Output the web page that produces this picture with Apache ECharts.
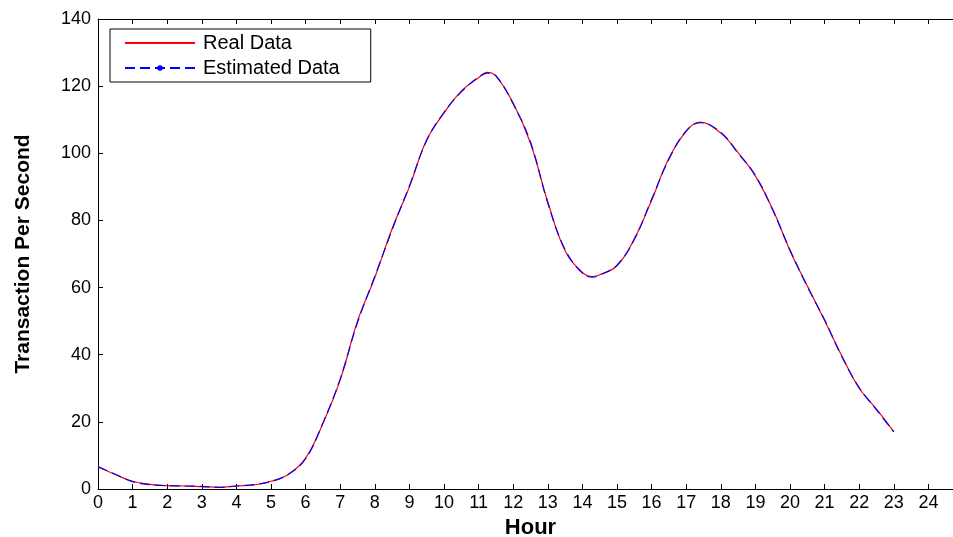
<!DOCTYPE html>
<html>
<head>
<meta charset="utf-8">
<style>
  html, body { margin: 0; padding: 0; background: #fff; }
  #chart { width: 953px; height: 537px; }
</style>
<script src="https://cdn.jsdelivr.net/npm/echarts@6/dist/echarts.min.js"></script>
</head>
<body>
<div id="chart"></div>
<script>
const hours = [0, 0.5, 1, 1.5, 2, 2.5, 3, 3.5, 4, 4.5, 5, 5.5, 6, 6.5, 7, 7.5, 8, 8.5, 9, 9.5,
  10, 10.5, 11, 11.25, 11.5, 12, 12.5, 13, 13.5, 14, 14.3, 14.5, 15, 15.5, 16, 16.5, 17, 17.4,
  18, 18.5, 19, 19.5, 20, 20.5, 21, 21.5, 22, 22.5, 23];
const realData = [6.7, 4.3, 2.3, 1.4, 1.0, 0.9, 0.7, 0.5, 0.9, 1.2, 2.3, 4.3, 9.2, 19.5, 32.5, 50, 63, 77.5, 90, 104,
  112, 118.5, 122.5, 124.1, 123, 115, 103, 85.5, 71, 64.5, 63.3, 63.8, 66.5, 74.5, 86, 98.5, 106.5, 109.3,
  106, 100.2, 93.2, 83.3, 71, 60.5, 50.2, 39.6, 30, 23.8, 17.1];
const estimatedData = [6.6, 4.4, 2.2, 1.3, 1.0, 0.9, 0.8, 0.5, 0.9, 1.3, 2.2, 4.4, 9.0, 19.7, 32.8, 49.6, 63.3, 77.2, 90.3, 103.8,
  112.2, 118.3, 122.7, 123.9, 123.1, 114.7, 103.3, 85.2, 71.3, 64.3, 63.1, 63.7, 66.7, 74.3, 86.3, 98.2, 106.7, 109.1,
  106.2, 100, 93.4, 83.1, 71.2, 60.3, 50.4, 39.4, 30.2, 23.6, 17.0];
const yTicks = [0, 20, 40, 60, 80, 100, 120, 140];

const font = 'Liberation Sans, Arial, sans-serif';
const toPairs = (vals) => vals.map((v, i) => [hours[i], v]);

const chart = echarts.init(document.getElementById('chart'));
chart.setOption({
  animation: false,
  backgroundColor: '#fff',
  grid: { left: 98, right: -10, top: 19, bottom: 48, outerBoundsMode: 'none', containLabel: false },
  legend: {
    orient: 'vertical',
    left: 110,
    top: 29,
    padding: [4, 31, 4, 14],
    itemWidth: 70,
    itemHeight: 7,
    itemGap: 5,
    borderColor: '#000',
    borderWidth: 1,
    borderRadius: 0,
    backgroundColor: '#fff',
    textStyle: { fontFamily: font, fontSize: 20, color: '#000', padding: [0, 0, 0, 3] },
    data: [
      { name: 'Real Data', itemStyle: { opacity: 0 } },
      { name: 'Estimated Data' },
    ],
  },
  xAxis: [
    {
      type: 'value',
      min: 0,
      max: 25,
      interval: 1,
      name: 'Hour',
      nameLocation: 'middle',
      nameGap: 28,
      nameTextStyle: { fontFamily: font, fontSize: 22, fontWeight: 'bold', color: '#000' },
      splitLine: { show: false },
      axisLine: { lineStyle: { color: '#000', width: 1 } },
      axisTick: { inside: true, length: 5, lineStyle: { color: '#000' } },
      axisLabel: {
        fontFamily: font, fontSize: 18, color: '#000', margin: 5,
        formatter: (v) => (v <= 24 ? String(v) : ''),
      },
    },
    {
      type: 'value',
      position: 'top',
      min: 0,
      max: 25,
      interval: 1,
      splitLine: { show: false },
      axisLine: { show: true, lineStyle: { color: '#000', width: 1 } },
      axisTick: { inside: true, length: 5, lineStyle: { color: '#000' } },
      axisLabel: { show: false },
    },
  ],
  yAxis: {
    type: 'value',
    min: 0,
    max: 140,
    interval: 20,
    name: 'Transaction Per Second',
    nameLocation: 'middle',
    nameGap: 64,
    nameTextStyle: { fontFamily: font, fontSize: 21, fontWeight: 'bold', color: '#000' },
    splitLine: { show: false },
    axisLine: { show: true, lineStyle: { color: '#000', width: 1 } },
    axisTick: { inside: true, length: 5, lineStyle: { color: '#000' } },
    axisLabel: {
      fontFamily: font, fontSize: 18, color: '#000', margin: 7,
      formatter: (v) => (yTicks.includes(v) ? String(v) : ''),
    },
  },
  series: [
    {
      name: 'Real Data',
      type: 'line',
      data: toPairs(realData),
      smooth: 0.4,
      symbol: 'none',
      color: '#ff0000',
      lineStyle: { color: '#ff0000', width: 1.2 },
    },
    {
      name: 'Estimated Data',
      type: 'line',
      data: toPairs(estimatedData),
      smooth: 0.4,
      symbol: 'circle',
      symbolSize: 5,
      showSymbol: false,
      color: '#0000ff',
      lineStyle: { color: '#0000ff', width: 1.2, type: [10, 5] },
    },
  ],
});
</script>
</body>
</html>
